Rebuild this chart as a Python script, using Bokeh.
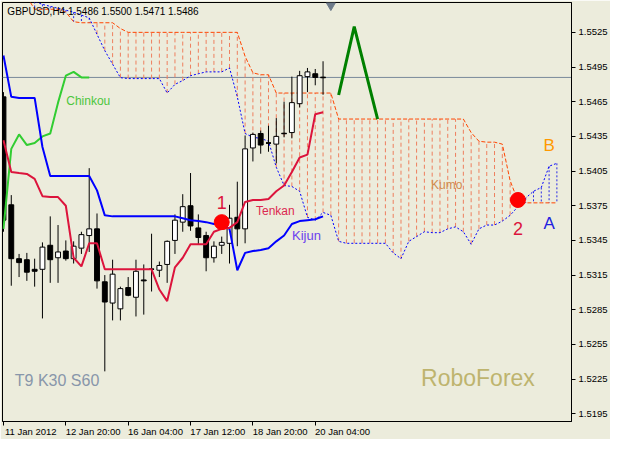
from bokeh.plotting import figure
from bokeh.models import (Range1d, FixedTicker, PrintfTickFormatter, Label,
                          ColumnDataSource, Span, LinearAxis)
from bokeh.embed import file_html
from bokeh.resources import INLINE

# ---------------- data (GBPUSD H4) ----------------
bar_index = list(range(42))
opens = [1.54692, 1.53758, 1.53292, 1.53283, 1.53200, 1.53200, 1.53408, 1.53300,
         1.53358, 1.53292, 1.53383, 1.53492, 1.53550, 1.53092, 1.52908, 1.52858,
         1.53042, 1.52958, 1.53108, 1.53200, 1.53192, 1.53242, 1.53450, 1.53608,
         1.53750, 1.53558, 1.53492, 1.53300, 1.53408, 1.53425, 1.53650, 1.53550,
         1.54250, 1.54375, 1.54292, 1.54283, 1.54375, 1.54383, 1.54633, 1.54867,
         1.54892, 1.54860]
highs = [1.54733, 1.53842, 1.53333, 1.53342, 1.53292, 1.53433, 1.53658, 1.53583,
         1.53450, 1.53442, 1.53525, 1.54075, 1.53683, 1.53150, 1.53283, 1.53050,
         1.53133, 1.53283, 1.53242, 1.53508, 1.53267, 1.53450, 1.53675, 1.53850,
         1.54033, 1.53675, 1.53525, 1.53442, 1.53483, 1.53758, 1.53958, 1.54358,
         1.54383, 1.54400, 1.54442, 1.54508, 1.54650, 1.54867, 1.54917, 1.54942,
         1.54933, 1.55000]
lows = [1.53525, 1.53058, 1.53133, 1.53100, 1.53050, 1.52775, 1.53083, 1.53083,
        1.53275, 1.53250, 1.53333, 1.53350, 1.53033, 1.52317, 1.52758, 1.52758,
        1.52967, 1.52792, 1.52808, 1.53008, 1.53133, 1.53083, 1.53333, 1.53525,
        1.53533, 1.53417, 1.53183, 1.53258, 1.53333, 1.53250, 1.53400, 1.53425,
        1.54133, 1.54200, 1.54217, 1.54117, 1.54342, 1.54333, 1.54600, 1.54733,
        1.54792, 1.54710]
closes = [1.53625, 1.53292, 1.53258, 1.53175, 1.53183, 1.53392, 1.53283, 1.53350,
          1.53292, 1.53400, 1.53500, 1.53550, 1.53100, 1.52917, 1.53158, 1.53033,
          1.52975, 1.53183, 1.53100, 1.53200, 1.53233, 1.53442, 1.53625, 1.53742,
          1.53575, 1.53475, 1.53300, 1.53400, 1.53433, 1.53642, 1.53550, 1.54242,
          1.54367, 1.54275, 1.54292, 1.54350, 1.54375, 1.54642, 1.54875, 1.54908,
          1.54860, 1.54860]
tenkan = [1.54317, 1.54042, 1.54033, 1.54025, 1.53983, 1.53833, 1.53825, 1.53825,
          1.53750, 1.53300, 1.53225, 1.53425, 1.53425, 1.53200, 1.53200, 1.53200,
          1.53200, 1.53200, 1.53200, 1.53200, 1.53025, 1.52925, 1.53217, 1.53300,
          1.53417, 1.53417, 1.53417, 1.53525, 1.53550, 1.53558, 1.53608, 1.53783,
          1.53800, 1.53800, 1.53808, 1.53875, 1.53925, 1.54042, 1.54167, 1.54192,
          1.54542, 1.54558]
kijun = [1.55050, 1.54692, 1.54683, 1.54683, 1.54683, 1.54258, 1.54008, 1.54008,
         1.54008, 1.54008, 1.54008, 1.54008, 1.53883, 1.53667, 1.53658, 1.53658,
         1.53658, 1.53658, 1.53658, 1.53658, 1.53658, 1.53658, 1.53658, 1.53642,
         1.53625, 1.53617, 1.53608, 1.53592, 1.53592, 1.53550, 1.53192, 1.53342,
         1.53358, 1.53367, 1.53383, 1.53442, 1.53492, 1.53592, 1.53617, 1.53625,
         1.53633, 1.53658]
cloud_index = list(range(72))
senkou_a = [1.55592, 1.55592, 1.55592, 1.55592, 1.55517, 1.55492, 1.55475, 1.55458,
            1.55442, 1.55425, 1.55400, 1.55375, 1.55233, 1.55092, 1.54975, 1.54858,
            1.54850, 1.54850, 1.54850, 1.54850, 1.54850, 1.54725, 1.54800, 1.54833,
            1.54875, 1.54892, 1.54908, 1.54908, 1.54908, 1.54942, 1.54692, 1.54375,
            1.54342, 1.54333, 1.54308, 1.54083, 1.53925, 1.53917, 1.53875, 1.53650,
            1.53625, 1.53692, 1.53667, 1.53442, 1.53425, 1.53425, 1.53425, 1.53425,
            1.53425, 1.53425, 1.53342, 1.53292, 1.53442, 1.53483, 1.53525, 1.53517,
            1.53517, 1.53550, 1.53567, 1.53525, 1.53417, 1.53550, 1.53583, 1.53583,
            1.53617, 1.53667, 1.53742, 1.53817, 1.53875, 1.53908, 1.54092, 1.54117]
senkou_b = [1.55558, 1.55558, 1.55558, 1.55558, 1.55450, 1.55450, 1.55450, 1.55450,
            1.55425, 1.55342, 1.55333, 1.55333, 1.55333, 1.55333, 1.55333, 1.55283,
            1.55250, 1.55250, 1.55250, 1.55250, 1.55250, 1.55250, 1.55250, 1.55250,
            1.55250, 1.55250, 1.55250, 1.55250, 1.55250, 1.55250, 1.55250, 1.55042,
            1.54900, 1.54883, 1.54883, 1.54725, 1.54725, 1.54725, 1.54725, 1.54725,
            1.54725, 1.54725, 1.54725, 1.54500, 1.54500, 1.54500, 1.54500, 1.54500,
            1.54500, 1.54500, 1.54500, 1.54500, 1.54500, 1.54500, 1.54500, 1.54500,
            1.54500, 1.54500, 1.54500, 1.54500, 1.54383, 1.54308, 1.54300, 1.54300,
            1.54283, 1.53967, 1.53792, 1.53775, 1.53775, 1.53775, 1.53775, 1.53775]
chinkou_shift = 30
forecast_x = [43, 45, 48]
forecast_y = [1.54708, 1.55300, 1.54500]
signal_x = [28, 66]
signal_y = [1.53608, 1.53800]
price_ticks = [1.5195, 1.5225, 1.5255, 1.5285, 1.5315, 1.5345, 1.5375, 1.5405,
               1.5435, 1.5465, 1.5495, 1.5525]
time_ticks = [0, 8, 16, 24, 32, 40]
time_labels = ["11 Jan 2012", "12 Jan 20:00", "16 Jan 04:00", "17 Jan 12:00",
               "18 Jan 20:00", "20 Jan 04:00"]
last_price = 1.5486
title_text = "GBPUSD,H4 1.5486 1.5500 1.5471 1.5486"

BG = "#ECECDC"
FONT = "Liberation Sans"
Y0, Y1 = 1.518833, 1.555083
LABEL_SHIFT = 3.5   # MetaTrader writes the time label to the right of its tick

p = figure(width=610, height=439, output_backend="svg", toolbar_location=None,
           x_range=Range1d(-0.125, 72.875), y_range=Range1d(Y0, Y1),
           y_axis_location="right", min_border_left=2, min_border_top=2,
           min_border_right=0, min_border_bottom=0)
p.background_fill_color = BG
p.border_fill_color = BG
p.outline_line_color = "black"
p.outline_line_width = 1
p.grid.visible = False

# axes: tick marks on the main x axis, labels on a second, tick-less axis
p.xaxis.ticker = FixedTicker(ticks=time_ticks)
p.xaxis.major_label_overrides = {t: "" for t in time_ticks}
p.xaxis.major_label_standoff = 0
p.yaxis.ticker = FixedTicker(ticks=price_ticks)
p.yaxis.formatter = PrintfTickFormatter(format="%.4f")
p.yaxis.major_label_standoff = 3
for ax, fs in ((p.xaxis, "1px"), (p.yaxis, "9.5px")):
    ax.axis_line_color = "black"
    ax.major_tick_line_color = "black"
    ax.major_tick_out = 4
    ax.major_tick_in = 0
    ax.minor_tick_line_color = None
    ax.major_label_text_font = FONT
    ax.major_label_text_font_size = fs
    ax.major_label_text_color = "black"

label_ticks = [t + LABEL_SHIFT for t in time_ticks]
time_axis = LinearAxis(ticker=FixedTicker(ticks=label_ticks),
                       major_label_overrides={t: s for t, s in zip(label_ticks, time_labels)},
                       axis_line_color=None, major_tick_line_color=None,
                       minor_tick_line_color=None, major_tick_out=0, major_tick_in=0,
                       major_label_standoff=0, major_label_text_font=FONT,
                       major_label_text_font_size="9.5px",
                       major_label_text_color="black")
p.add_layout(time_axis, "below")

# cloud hatch
up = [i for i in cloud_index if senkou_a[i] > senkou_b[i]]
dn = [i for i in cloud_index if senkou_a[i] <= senkou_b[i]]
p.segment(x0=dn, y0=[senkou_a[i] for i in dn], x1=dn,
          y1=[senkou_b[i] for i in dn], line_color="#EE7F5E", line_width=1,
          line_dash="4 3")
p.segment(x0=up, y0=[senkou_a[i] for i in up], x1=up,
          y1=[senkou_b[i] for i in up], line_color="#2828E6", line_width=1,
          line_dash="2 2")
p.line(cloud_index, senkou_b, line_color="#FF4500", line_width=1, line_dash="4 2")
p.line(cloud_index, senkou_a, line_color="#0000FF", line_width=1, line_dash="2 2")

# last price line
p.add_layout(Span(location=last_price, dimension="width", line_color="#7A8A9A",
                  line_width=1, level="underlay"))

# candles
src = ColumnDataSource(dict(
    x=bar_index, h=highs, l=lows,
    top=[max(o, c) for o, c in zip(opens, closes)],
    bottom=[min(o, c) for o, c in zip(opens, closes)],
    fill=["white" if c > o else "black" for o, c in zip(opens, closes)]))
p.segment("x", "h", "x", "l", source=src, line_color="black", line_width=1)
p.vbar(x="x", width=0.625, top="top", bottom="bottom", fill_color="fill",
       line_color="black", line_width=1, source=src)
doji = [i for i in bar_index if abs(opens[i] - closes[i]) < 1e-6]
p.segment(x0=[i - 0.32 for i in doji], y0=[opens[i] for i in doji],
          x1=[i + 0.32 for i in doji], y1=[opens[i] for i in doji],
          line_color="black", line_width=1.5)

# ichimoku lines
p.line([k - chinkou_shift for k in bar_index if k >= chinkou_shift],
       [c for k, c in zip(bar_index, closes) if k >= chinkou_shift],
       line_color="#32CD32", line_width=2)
p.line(bar_index, kijun, line_color="#0000FF", line_width=2)
p.line(bar_index, tenkan, line_color="#DC143C", line_width=2)

# forecast and signals
p.line(forecast_x, forecast_y, line_color="#008000", line_width=3)
p.scatter(signal_x, signal_y, size=15, fill_color="#FF0000", line_color="#FF0000")
p.scatter([42], [1.55483], marker="inverted_triangle", size=9,
          fill_color="#6E7B8B", line_color="#6E7B8B")

def lab(x, y, text, color, size, align="center", baseline="middle"):
    p.add_layout(Label(x=x, y=y, text=text, text_color=color, text_font=FONT,
                       text_font_size=size, text_align=align,
                       text_baseline=baseline))

lab(0.5, 1.55433, title_text, "black", "10px", align="left")
lab(10.875, 1.54658, "Chinkou", "#4CC63C", "12px")
lab(34.875, 1.53708, "Tenkan", "#DC2850", "12px")
lab(38.875, 1.53492, "Kijun", "#6B3FEF", "13px")
lab(56.875, 1.53933, "Kumo", "#D08A4E", "12px")
lab(28, 1.53775, "1", "#DC143C", "18px")
lab(66, 1.53550, "2", "#DC143C", "18px")
lab(70, 1.53592, "A", "#2020E0", "17px")
lab(70, 1.54267, "B", "#FF9900", "17px")
lab(6.875, 1.52242, "T9 K30 S60", "#8896AA", "16px")
lab(60.875, 1.52258, "RoboForex", "#BEB46E", "23px")

p.add_layout(Label(x=72.875, y=last_price, x_offset=2, text="1.5486",
                   text_color="white", text_font=FONT, text_font_size="9.5px",
                   text_align="left", text_baseline="middle",
                   background_fill_color="black"))

open("out.html", "w").write(file_html(p, INLINE))
